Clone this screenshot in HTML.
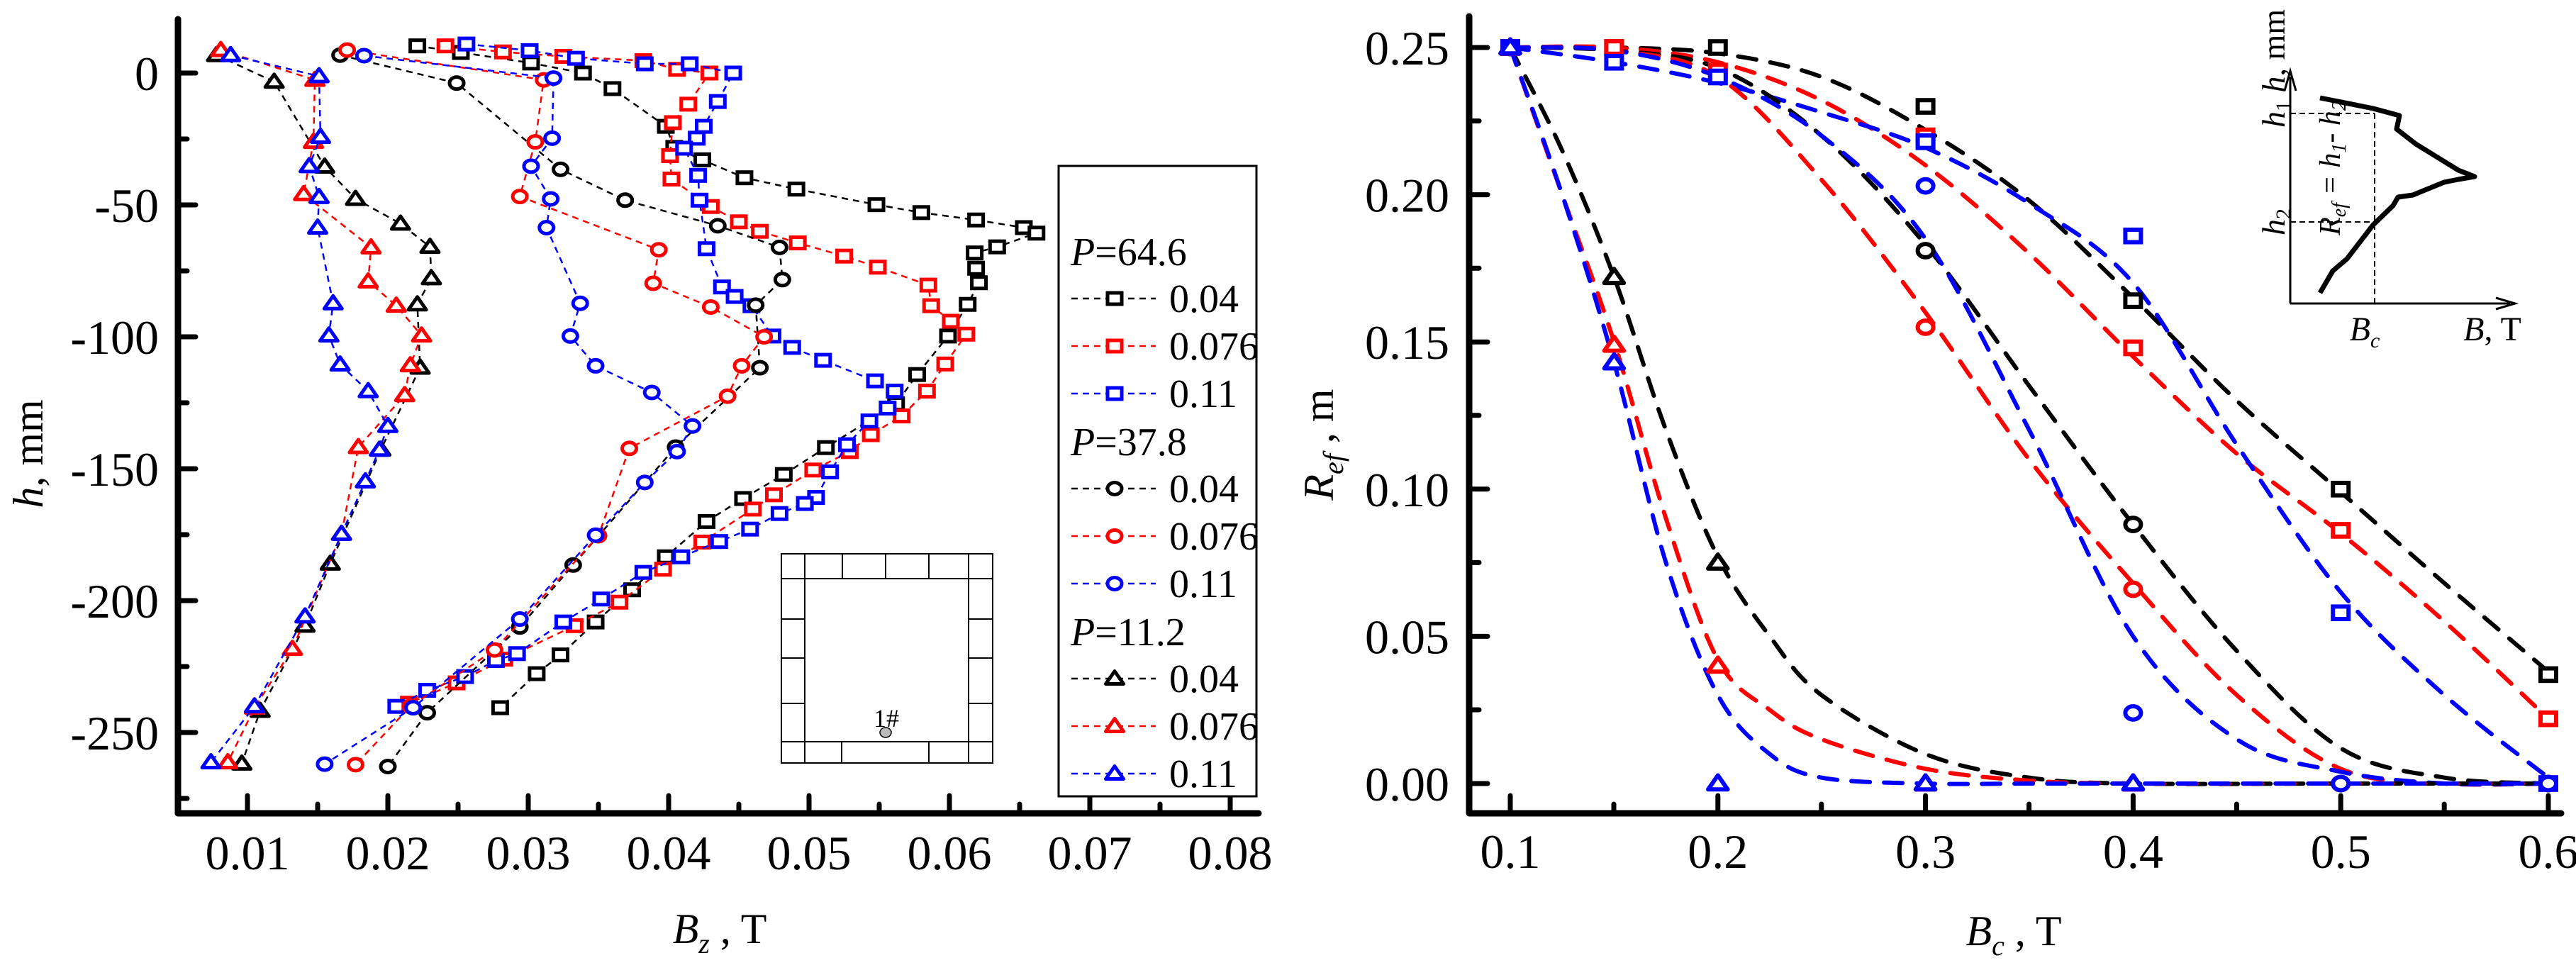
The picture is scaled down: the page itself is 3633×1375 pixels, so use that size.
<!DOCTYPE html>
<html><head><meta charset="utf-8"><style>
html,body{margin:0;padding:0;background:#fff}
svg{display:block}
svg text{font-family:"Liberation Serif","Times New Roman",serif}
</style></head><body>
<svg id="fig" xmlns="http://www.w3.org/2000/svg" width="3633" height="1375" viewBox="0 0 3633 1375" font-family="Liberation Serif, serif">
<g id="left"></g>
<g id="right"></g>
<g id="inset">
  <line x1="3230" y1="428" x2="3230" y2="108" stroke="#000" stroke-width="3"/>
  <path d="M3222,128 L3230,100 L3238,128" fill="none" stroke="#000" stroke-width="3"/>
  <line x1="3230" y1="428" x2="3540" y2="428" stroke="#000" stroke-width="3"/>
  <path d="M3520,420 L3547,428 L3520,436" fill="none" stroke="#000" stroke-width="3"/>
  <line x1="3230" y1="160" x2="3349" y2="160" stroke="#000" stroke-width="2" stroke-dasharray="8,5"/>
  <line x1="3230" y1="313" x2="3349" y2="313" stroke="#000" stroke-width="2" stroke-dasharray="8,5"/>
  <line x1="3349" y1="160" x2="3349" y2="428" stroke="#000" stroke-width="2" stroke-dasharray="8,5"/>
  <polyline points="3272,138 3347,153 3384,163 3380,182 3407,203 3467,240 3490,249 3467,253 3447,257 3403,275 3382,278 3375,290 3347,317 3310,365 3290,382 3272,413" fill="none" stroke="#000" stroke-width="7" stroke-linejoin="round"/>
  <text transform="translate(3222,180) rotate(-90)" font-size="46" text-anchor="start"><tspan font-style="italic">h</tspan><tspan font-size="30" dy="8">1</tspan><tspan dy="-8"> </tspan><tspan font-style="italic">h</tspan>, mm</text>
  <text transform="translate(3222,313) rotate(-90)" font-size="46" text-anchor="middle"><tspan font-style="italic">h</tspan><tspan font-size="30" dy="8">2</tspan></text>
  <text transform="translate(3300,237) rotate(-90)" font-size="42" text-anchor="middle" font-style="italic">R<tspan font-size="28" dy="8">ef</tspan><tspan dy="-8"> = h</tspan><tspan font-size="28" dy="8">1</tspan><tspan dy="-8">- h</tspan><tspan font-size="28" dy="8">2</tspan></text>
  <text x="3335" y="480" font-size="48" font-style="italic" text-anchor="middle">B<tspan font-size="30" dy="10">c</tspan></text>
  <text x="3515" y="480" font-size="48" text-anchor="middle"><tspan font-style="italic">B</tspan>, T</text>
</g>
</svg>
<script>
// ===== Left chart data (Bz in T, h in mm) =====
const leftXTicks = [0.01,0.02,0.03,0.04,0.05,0.06,0.07,0.08];
const leftYTicks = [0,-50,-100,-150,-200,-250];
const sq004X = [0.0221,0.0252,0.0302,0.0339,0.0360,0.0398,0.0404,0.0424,0.0454,0.0491,0.0548,0.0580,0.0619,0.0653,0.0662,0.0634,0.0618,0.0619,0.0621,0.0613,0.0599,0.0577,0.0562,0.0512,0.0482,0.0453,0.0427,0.0398,0.0374,0.0348,0.0323,0.0306,0.0280];
const sq004Y = [10.3,7.8,3.8,0,-5.9,-20.2,-28.2,-32.9,-39.7,-44,-49.9,-52.9,-55.7,-58.6,-60.7,-65.9,-68.2,-74,-79.5,-87.7,-99.7,-114.3,-125.4,-142,-152.2,-161.3,-170,-183.4,-195.9,-208.1,-220.6,-227.7,-240.6];
const sq076X = [0.0241,0.0282,0.0325,0.0382,0.0406,0.0429,0.0414,0.0403,0.0401,0.0402,0.0430,0.0450,0.0465,0.0492,0.0525,0.0549,0.0585,0.0587,0.0601,0.0612,0.0597,0.0584,0.0566,0.0544,0.0529,0.0503,0.0475,0.0460,0.0424,0.0396,0.0365,0.0333,0.0283,0.0249,0.0215];
const sq076Y = [10.3,8,6.3,4.7,1.4,0,-11.8,-18.8,-31.3,-40.2,-50.6,-56.4,-60,-64.4,-69.4,-73.6,-80.4,-88.2,-94.1,-99,-110.3,-120.6,-130,-137.1,-143.5,-150.5,-159.9,-165.3,-177.8,-188.1,-200.6,-209.5,-222.2,-231.2,-238.9];
const sq011X = [0.0256,0.0301,0.0334,0.0383,0.0415,0.0446,0.0435,0.0425,0.0420,0.0411,0.0421,0.0422,0.0427,0.0438,0.0447,0.0459,0.0474,0.0488,0.0510,0.0547,0.0561,0.0556,0.0543,0.0527,0.0515,0.0505,0.0497,0.0479,0.0458,0.0436,0.0409,0.0382,0.0352,0.0325,0.0292,0.0277,0.0255,0.0228,0.0206];
const sq011Y = [11,8.5,5.6,3.5,3.5,0,-10.8,-20.2,-24.7,-28.5,-38.8,-48.2,-66.6,-81.1,-84.7,-88.2,-99.7,-104,-108.9,-116.7,-120.6,-127,-131.9,-140.9,-151.2,-160.9,-163.2,-167,-172.9,-177.6,-183.4,-189.3,-199.4,-208.1,-220.1,-222.7,-228.8,-234,-240.1];
const ci004X = [0.0166,0.0249,0.0323,0.0369,0.0435,0.0479,0.0481,0.0462,0.0465,0.0405,0.0332,0.0294,0.0228,0.0200];
const ci004Y = [6.8,-3.8,-36.5,-48.2,-57.9,-66.1,-78.3,-88,-111.7,-141.8,-186.5,-210,-242.5,-262.9];
const ci076X = [0.0171,0.0311,0.0305,0.0294,0.0393,0.0389,0.0430,0.0468,0.0452,0.0442,0.0372,0.0350,0.0276,0.0216,0.0177];
const ci076Y = [8.7,-2.6,-26.1,-46.8,-67,-79.7,-88.7,-100,-111,-122.5,-142.3,-175.4,-218.7,-240.1,-262.2];
const ci011X = [0.0183,0.0318,0.0317,0.0302,0.0316,0.0313,0.0337,0.0330,0.0348,0.0388,0.0417,0.0406,0.0383,0.0348,0.0294,0.0218,0.0155];
const ci011Y = [6.6,-1.9,-24.7,-35.3,-47.7,-58.6,-87.3,-99.7,-111,-121.1,-133.8,-143.5,-155.2,-175.2,-207,-240.6,-262];
const tr004X = [0.0078,0.0119,0.0155,0.0177,0.0209,0.0230,0.0231,0.0221,0.0223,0.0195,0.0159,0.0141,0.0109,0.0096];
const tr004Y = [6.8,-3.3,-35.5,-47.7,-57.1,-65.9,-77.8,-87.7,-111.7,-142.8,-186,-209.5,-241.8,-261.8];
const tr076X = [0.0081,0.0148,0.0147,0.0140,0.0188,0.0186,0.0206,0.0224,0.0216,0.0212,0.0179,0.0167,0.0132,0.0105,0.0086];
const tr076Y = [8.7,-2.6,-26.1,-45.9,-66.1,-79,-88.2,-99.5,-110.8,-122.1,-141.8,-174.7,-218.3,-240.6,-261.3];
const tr011X = [0.0088,0.0151,0.0152,0.0144,0.0151,0.0150,0.0161,0.0158,0.0166,0.0186,0.0200,0.0194,0.0184,0.0167,0.0141,0.0105,0.0074];
const tr011Y = [6.8,-1.2,-24.2,-35.3,-47,-58.6,-87.3,-99.5,-110.5,-120.6,-133.8,-142.8,-154.8,-174.7,-206,-240.1,-261.3];

// ===== Right chart data (Bc in T, Ref in m) =====
const rightXTicks = [0.1,0.2,0.3,0.4,0.5,0.6];
const rightYTicks = [0,0.05,0.10,0.15,0.20,0.25];
const rSqX = [0.1,0.15,0.2,0.3,0.4,0.5,0.6];
const rSq004 = [0.25,0.25,0.25,0.23,0.164,0.1,0.037];
const rSq076 = [0.25,0.25,0.242,0.22,0.148,0.086,0.022];
const rSq011 = [0.25,0.245,0.24,0.218,0.186,0.058,0.0];
const rCiX = [0.1,0.3,0.4,0.5,0.6];
const rCi004 = [0.25,0.181,0.088,0,0];
const rCi076 = [0.25,0.155,0.066,0,0];
const rCi011 = [0.25,0.203,0.024,0,0];
const rTrX = [0.1,0.15,0.2,0.3,0.4];
const rTr004 = [0.25,0.172,0.075,0,0];
const rTr076 = [0.25,0.149,0.040,0,0];
const rTr011 = [0.25,0.143,0.0,0,0];
const fitX = [0.1,0.15,0.2,0.25,0.3,0.35,0.4,0.45,0.5,0.55,0.6];
const fitSq004 = [0.25,0.25,0.248,0.24,0.222,0.198,0.165,0.13,0.099,0.068,0.038];
const fitSq076 = [0.25,0.25,0.245,0.232,0.21,0.18,0.145,0.112,0.085,0.055,0.022];
const fitSq011 = [0.25,0.245,0.238,0.228,0.216,0.197,0.17,0.115,0.065,0.03,0.002];
const fitCi004 = [0.25,0.249,0.243,0.22,0.183,0.135,0.088,0.045,0.012,0.002,0];
const fitCi076 = [0.25,0.249,0.24,0.205,0.16,0.11,0.068,0.03,0.005,0,0];
const fitCi011 = [0.25,0.249,0.24,0.22,0.185,0.12,0.05,0.015,0.004,0,0];
const fitTrX = [0.1,0.125,0.15,0.175,0.2,0.225,0.25,0.3,0.35,0.4,0.5,0.6];
const fitTr004 = [0.25,0.215,0.172,0.12,0.077,0.05,0.03,0.01,0.002,0,0,0];
const fitTr076 = [0.25,0.2,0.15,0.09,0.042,0.025,0.015,0.005,0.001,0,0,0];
const fitTr011 = [0.25,0.2,0.143,0.075,0.03,0.01,0.002,0,0,0,0,0];

const NS='http://www.w3.org/2000/svg';
const FF='Liberation Serif, Times New Roman, serif';
function mk(parent,tag,attrs,text){const e=document.createElementNS(NS,tag);for(const k in attrs)e.setAttribute(k,attrs[k]);if(tag==='text')e.setAttribute('font-family',FF);if(text!==undefined)e.textContent=text;parent.appendChild(e);return e;}
const COL={k:'#000',r:'#ff0000',b:'#0000ff'};

const lx=v=>151+v*19800;
const ly=v=>103-v*3.72;
function marker(g,type,x,y,c,s,sw){
  let e;
  if(type==='sq'){e=mk(g,'rect',{x:x-s,y:y-s*0.8,width:2*s,height:1.6*s,fill:'#fff',stroke:c,'stroke-width':sw});}
  else if(type==='ci'){e=mk(g,'ellipse',{cx:x,cy:y,rx:s,ry:s*0.85,fill:'#fff',stroke:c,'stroke-width':sw});}
  else {e=mk(g,'path',{d:`M${x},${y-s*1.05} L${x+s*1.25},${y+s*0.75} L${x-s*1.25},${y+s*0.75} Z`,fill:'#fff',stroke:c,'stroke-width':sw,'stroke-linejoin':'round'});}
  return e;
}
const L=document.getElementById('left');
const la=mk(L,'path',{d:`M251,27 L251,1147 L1775,1147`,fill:'none',stroke:'#000','stroke-width':9,'stroke-linecap':'round','stroke-linejoin':'round'});


leftXTicks.forEach(v=>{
  const x=lx(v);
  const t=mk(L,'line',{x1:x,y1:1147,x2:x,y2:1122,stroke:'#000','stroke-width':7,'stroke-linecap':'round'});
  
  
  const m=mk(L,'line',{x1:x-99,y1:1147,x2:x-99,y2:1134,stroke:'#000','stroke-width':7,'stroke-linecap':'round'});
  
  
  const tl=mk(L,'text',{x:x,y:1226,'font-size':68,'text-anchor':'middle'},String(v));
  
  
});
leftYTicks.forEach(v=>{
  const y=ly(v);
  const t=mk(L,'line',{x1:251,y1:y,x2:276,y2:y,stroke:'#000','stroke-width':7,'stroke-linecap':'round'});
  
  
  const tl=mk(L,'text',{x:224,y:y+24,'font-size':68,'text-anchor':'end'},String(v));
  
  
});
[-25,-75,-125,-175,-225,-275].forEach(v=>{
  const y=ly(v);
  const m=mk(L,'line',{x1:251,y1:y,x2:264,y2:y,stroke:'#000','stroke-width':7,'stroke-linecap':'round'});
  
  
});
const lyl=mk(L,'text',{transform:'translate(60,640) rotate(-90)','font-size':60,'text-anchor':'middle'});
lyl.innerHTML='<tspan font-style="italic">h</tspan>, mm';


const lxl=mk(L,'text',{x:1015,y:1330,'font-size':60,'text-anchor':'middle'});
lxl.innerHTML='<tspan font-style="italic">B</tspan><tspan font-style="italic" font-size="40" dy="14">z</tspan><tspan dy="-14"> , T</tspan>';



const leftSeries=[
 ['sq','k',sq004X,sq004Y,'p64-6-0-04'],['sq','r',sq076X,sq076Y,'p64-6-0-076'],['sq','b',sq011X,sq011Y,'p64-6-0-11'],
 ['ci','k',ci004X,ci004Y,'p37-8-0-04'],['ci','r',ci076X,ci076Y,'p37-8-0-076'],['ci','b',ci011X,ci011Y,'p37-8-0-11'],
 ['tr','k',tr004X,tr004Y,'p11-2-0-04'],['tr','r',tr076X,tr076Y,'p11-2-0-076'],['tr','b',tr011X,tr011Y,'p11-2-0-11']];
leftSeries.forEach(s=>{
  const g=mk(L,'g',{});
  
  
  const pts=s[2].map((v,i)=>lx(v)+','+ly(s[3][i])).join(' ');
  const pl=mk(g,'polyline',{points:pts,fill:'none',stroke:COL[s[1]],'stroke-width':2.5,'stroke-dasharray':'9,7'});
  
  
  s[2].forEach((v,i)=>{
    const m=marker(g,s[0],lx(v),ly(s[3][i]),COL[s[1]],10,5);
    
    
  });
});
const lg=mk(L,'g',{});


mk(lg,'rect',{x:1493,y:234,width:279,height:889,fill:'#fff',stroke:'#000','stroke-width':3});
const legRows=[['P=64.6'],['sq','k','0.04'],['sq','r','0.076'],['sq','b','0.11'],['P=37.8'],['ci','k','0.04'],['ci','r','0.076'],['ci','b','0.11'],['P=11.2'],['tr','k','0.04'],['tr','r','0.076'],['tr','b','0.11']];
legRows.forEach((r,i)=>{
  const y=354+i*67;
  if(r.length===1){
    const t=mk(lg,'text',{x:1510,y:y+20,'font-size':56});
    t.innerHTML='<tspan font-style="italic">P</tspan>='+r[0].slice(2);
    
    
  } else {
    const e=mk(lg,'g',{});
    
    
    mk(e,'line',{x1:1511,y1:y,x2:1630,y2:y,stroke:COL[r[1]],'stroke-width':2.5,'stroke-dasharray':'9,7'});
    marker(e,r[0],1572,y,COL[r[1]],10,5);
    mk(e,'text',{x:1649,y:y+19,'font-size':56},r[2]);
  }
});
const cs=mk(L,'g',{fill:'none',stroke:'#000','stroke-width':2});


mk(cs,'rect',{x:1102,y:781,width:298,height:295});
mk(cs,'rect',{x:1135,y:816,width:231,height:230});
[[1102,816,1400,816],[1102,1046,1400,1046],[1135,781,1135,816],[1188,781,1188,816],[1249,781,1249,816],[1310,781,1310,816],[1366,781,1366,816],
 [1135,1046,1135,1076],[1187,1046,1187,1076],[1310,1046,1310,1076],[1366,1046,1366,1076],
 [1102,873,1135,873],[1102,928,1135,928],[1102,992,1135,992],[1366,873,1400,873],[1366,928,1400,928],[1366,992,1400,992]].forEach(a=>mk(cs,'line',{x1:a[0],y1:a[1],x2:a[2],y2:a[3]}));
mk(cs,'ellipse',{cx:1249,cy:1033,rx:8,ry:7,fill:'#bbb',stroke:'#000','stroke-width':1.5});
const sl=mk(L,'text',{x:1250,y:1025,'font-size':36,'text-anchor':'middle'},'1#');



const rx=v=>2130+(v-0.1)*2928;
const ry=v=>1105-v*4152;
const R=document.getElementById('right');
const ra=mk(R,'path',{d:`M2072,23 L2072,1147 L3612,1147`,fill:'none',stroke:'#000','stroke-width':9,'stroke-linecap':'round','stroke-linejoin':'round'});


rightXTicks.forEach(v=>{
  const x=rx(v);
  const t=mk(R,'line',{x1:x,y1:1147,x2:x,y2:1122,stroke:'#000','stroke-width':7,'stroke-linecap':'round'});
  
  
  if(v<0.6){
    const m=mk(R,'line',{x1:x+146,y1:1147,x2:x+146,y2:1134,stroke:'#000','stroke-width':7,'stroke-linecap':'round'});
    
    
  }
  const tl=mk(R,'text',{x:x,y:1224,'font-size':68,'text-anchor':'middle'},v.toFixed(1));
  
  
});
rightYTicks.forEach(v=>{
  const y=ry(v);
  const t=mk(R,'line',{x1:2072,y1:y,x2:2098,y2:y,stroke:'#000','stroke-width':7,'stroke-linecap':'round'});
  
  
  if(v<0.25){
    const m=mk(R,'line',{x1:2072,y1:y-104,x2:2086,y2:y-104,stroke:'#000','stroke-width':7,'stroke-linecap':'round'});
    
    
  }
  const tl=mk(R,'text',{x:2044,y:y+24,'font-size':68,'text-anchor':'end'},v.toFixed(2));
  
  
});
const ryl=mk(R,'text',{transform:'translate(1880,627) rotate(-90)','font-size':60,'text-anchor':'middle'});
ryl.innerHTML='<tspan font-style="italic">R</tspan><tspan font-style="italic" font-size="40" dy="14">ef</tspan><tspan dy="-14"> , m</tspan>';


const rxl=mk(R,'text',{x:2840,y:1333,'font-size':60,'text-anchor':'middle'});
rxl.innerHTML='<tspan font-style="italic">B</tspan><tspan font-style="italic" font-size="40" dy="14">c</tspan><tspan dy="-14"> , T</tspan>';



function smooth(xs,ys){
  const p=xs.map((v,i)=>[rx(v),ry(ys[i])]);
  let d=`M${p[0][0]},${p[0][1]}`;
  for(let i=0;i<p.length-1;i++){
    const p0=p[Math.max(0,i-1)],p1=p[i],p2=p[i+1],p3=p[Math.min(p.length-1,i+2)];
    const c1=[p1[0]+(p2[0]-p0[0])/6,p1[1]+(p2[1]-p0[1])/6];
    const c2=[p2[0]-(p3[0]-p1[0])/6,p2[1]-(p3[1]-p1[1])/6];
    d+=` C${c1[0]},${c1[1]} ${c2[0]},${c2[1]} ${p2[0]},${p2[1]}`;
  }
  return d;
}
const fits=[[fitX,fitSq004,'k','fit-sq-0-04'],[fitX,fitSq076,'r','fit-sq-0-076'],[fitX,fitSq011,'b','fit-sq-0-11'],
 [fitX,fitCi004,'k','fit-ci-0-04'],[fitX,fitCi076,'r','fit-ci-0-076'],[fitX,fitCi011,'b','fit-ci-0-11'],
 [fitTrX,fitTr004,'k','fit-tr-0-04'],[fitTrX,fitTr076,'r','fit-tr-0-076'],[fitTrX,fitTr011,'b','fit-tr-0-11']];
fits.forEach(f=>{
  const p=mk(R,'path',{d:smooth(f[0],f[1]),fill:'none',stroke:COL[f[2]],'stroke-width':6,'stroke-dasharray':'26,20','stroke-linecap':'round'});
  
  
});
const rPts=[['sq',rSqX,rSq004,'k'],['sq',rSqX,rSq076,'r'],['sq',rSqX,rSq011,'b'],
 ['ci',rCiX,rCi004,'k'],['ci',rCiX,rCi076,'r'],['ci',rCiX,rCi011,'b'],
 ['tr',rTrX,rTr004,'k'],['tr',rTrX,rTr076,'r'],['tr',rTrX,rTr011,'b']];
rPts.forEach(s=>{
  const g=mk(R,'g',{});
  
  
  s[1].forEach((v,i)=>{
    const m=marker(g,s[0],rx(v),ry(s[2][i]),COL[s[3]],11,6);
    
    
  });
});
</script>
</body></html>
